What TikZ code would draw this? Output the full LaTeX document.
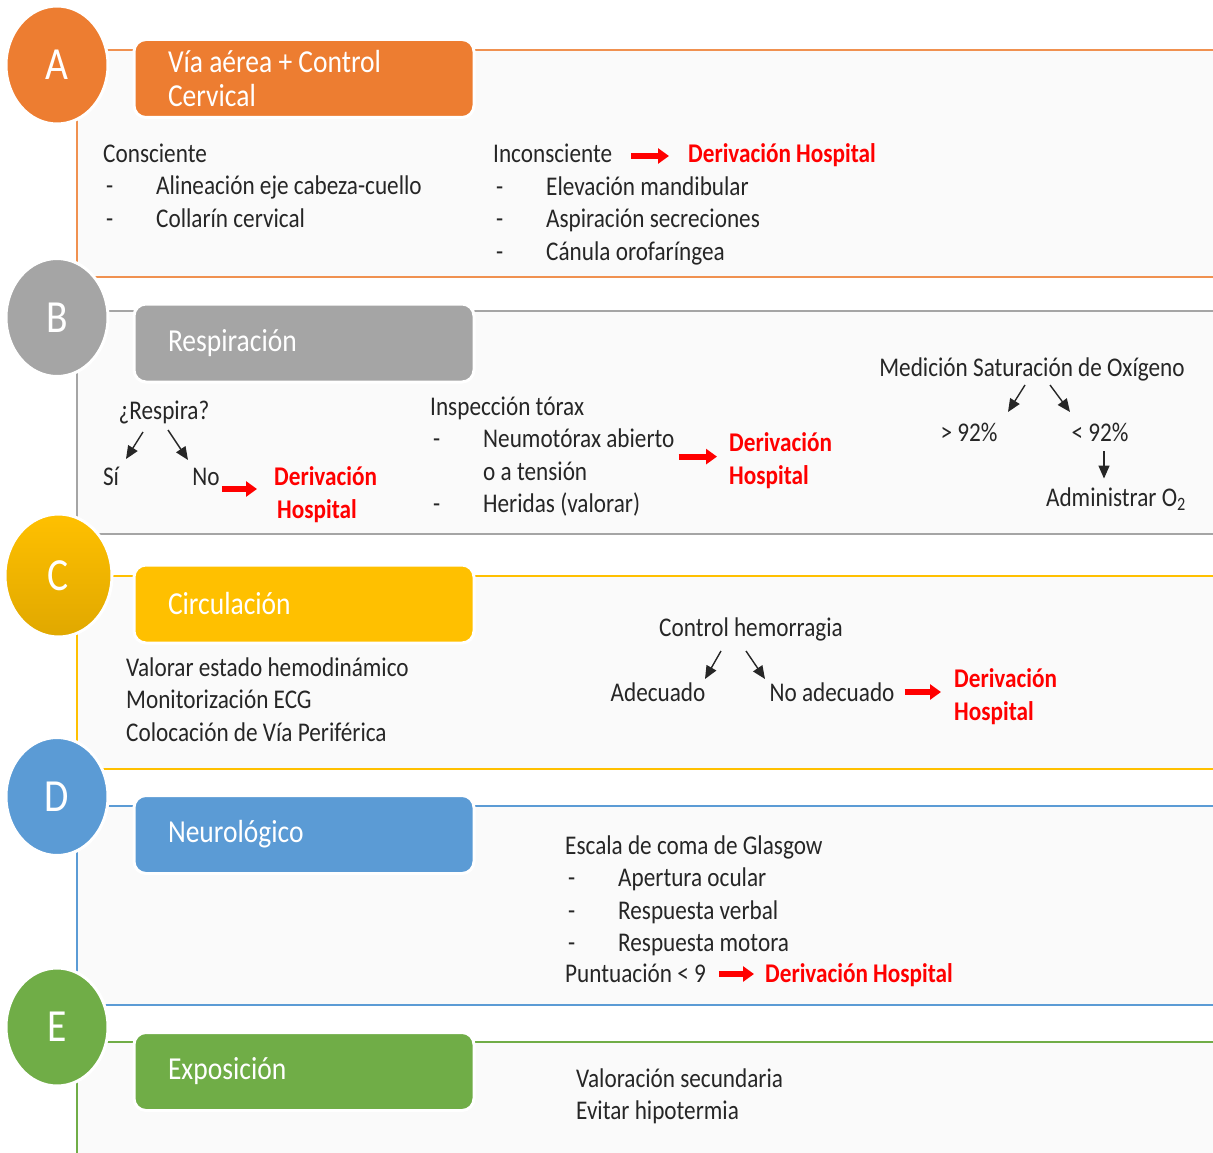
\documentclass[tikz,border=0pt]{standalone}
\usepackage{fontspec}
\setmainfont{Carlito}[FakeStretch=0.86]
\usetikzlibrary{arrows.meta,calc,shapes.geometric}

\definecolor{abcA}{HTML}{ED7D31}
\definecolor{abcB}{HTML}{A5A5A5}
\definecolor{abcC}{HTML}{FFC000}
\definecolor{abcCd}{HTML}{E0A800}
\definecolor{abcD}{HTML}{5B9BD5}
\definecolor{abcE}{HTML}{70AD47}
\definecolor{derivred}{HTML}{FF0000}
\definecolor{panelbg}{HTML}{FAFAFA}
\definecolor{ink}{HTML}{262626}

\newcommand{\dashitem}[1]{\makebox[53pt][l]{\hspace{3pt}-}#1}
\newcommand{\contitem}[1]{\hspace*{53pt}#1}

\begin{document}
\begin{tikzpicture}[
  x=1pt, y=-1pt,
  txt/.style={font=\fontsize{27}{32.5}\selectfont, text=ink, inner sep=0pt, align=left, execute at begin node=\strut},
  deriv/.style={txt, text=derivred, font=\fontsize{27}{32.5}\selectfont\bfseries},
  badge/.style={ellipse, minimum width=102pt, minimum height=118pt, inner sep=0pt, draw=white, line width=3pt, text=white, font=\fontsize{46}{50}\selectfont},
  hdr/.style={rounded corners=12pt, minimum height=78pt, text width=272pt, inner xsep=34pt, align=flush left, draw=white, line width=3pt, text=white, font=\fontsize{32}{34.5}\selectfont},
  rim/.style={line width=2.5pt},
  barr/.style={-{Triangle[length=13pt,width=11pt]}, line width=1.4pt, ink},
  redarr/.style={-{Triangle[length=11pt,width=15pt]}, line width=6pt, derivred},
]
  \useasboundingbox (0,0) rectangle (1213,1153);

  % ---------- panels ----------
  \fill[panelbg] (77,50) rectangle (1213,277);
  \fill[panelbg] (77,311) rectangle (1213,534);
  \fill[panelbg] (77,576) rectangle (1213,769);
  \fill[panelbg] (77,806) rectangle (1213,1005);
  \fill[panelbg] (77,1042) rectangle (1213,1153);
  \draw[rim, abcA!85] (1213,50) -| (77,277) -- (1213,277);
  \draw[rim, abcB] (1213,311) -| (77,534) -- (1213,534);
  \draw[rim, abcC] (1213,576) -| (77,769) -- (1213,769);
  \draw[rim, abcD] (1213,806) -| (77,1005) -- (1213,1005);
  \draw[rim, abcE] (1213,1042) -| (77,1160);

  % ---------- letters and headers ----------
  \node[badge, fill=abcA] (cA) at (57,65) {A};
  \node[badge, fill=abcB] (cB) at (57,317.5) {B};
  \node[badge, top color=abcC, bottom color=abcCd, minimum width=107pt, minimum height=123pt] (cC) at (58.5,575.5) {C};
  \node[badge, fill=abcD] (cD) at (57,796.5) {D};
  \node[badge, fill=abcE] (cE) at (57,1027) {E};

  \node[hdr, fill=abcA] (hA) at (304,78.5) {Vía aérea + Control\\Cervical};
  \node[hdr, fill=abcB] (hB) at (304,343) {Respiración};
  \node[hdr, fill=abcC] (hC) at (304,604) {Circulación};
  \node[hdr, fill=abcD] (hD) at (304,834.5) {Neurológico};
  \node[hdr, fill=abcE] (hE) at (304,1071.5) {Exposición};

  % ---------- A ----------
  \node[txt, anchor=north west] (consc) at (103,143.5)
    {Consciente\\\dashitem{Alineación eje cabeza-cuello}\\\dashitem{Collarín cervical}};
  \node[txt, anchor=west] (inc) at (493,156) {Inconsciente};
  \node[deriv, anchor=west] (derA) at (688,156) {Derivación Hospital};
  \node[txt, anchor=north west] (incl) at (493,176.5)
    {\dashitem{Elevación mandibular}\\\dashitem{Aspiración secreciones}\\\dashitem{Cánula orofaríngea}};
  \draw[redarr, shorten <=19pt, shorten >=19pt] (inc.east) -- (derA.west);

  % ---------- B ----------
  \node[txt] (resp) at (164,413) {¿Respira?};
  \node[txt] (si) at (111,479) {Sí};
  \node[txt] (no) at (206,479) {No};
  \node[deriv, anchor=north west] (derB) at (274,466.5) {Derivación\\\hspace*{3pt}Hospital};
  \draw[barr] ($(resp)+(-21,19)$) -- ($(si)+(15,-20)$);
  \draw[barr] ($(resp)+(4,17)$) -- ($(no)+(-18,-19)$);
  \coordinate (noArr) at ($(no.east)+(2,10)$);
  \draw[redarr, shorten >=17pt] (noArr) -- (noArr -| derB.west);

  \node[txt, anchor=north west] (insp) at (430,396.5)
    {Inspección tórax\\\dashitem{Neumotórax abierto}\\\contitem{o a tensión}\\\dashitem{Heridas (valorar)}};
  \node[deriv, anchor=north west] (derB2) at (729,432.5) {Derivación\\Hospital};
  \draw[redarr, shorten <=4pt, shorten >=12pt] ([yshift=3pt]insp.east) -- ([yshift=3pt]insp.east -| derB2.west);

  \node[txt] (sat) at (1032,370) {Medición Saturación de Oxígeno};
  \node[txt] (gt) at (969,435) {> 92\%};
  \node[txt] (lt) at (1100,435) {< 92\%};
  \node[txt] (otwo) at (1116,500) {Administrar O\textsubscript{2}};
  \draw[barr] ($(sat)+(-7,15)$) -- ($(gt)+(39,-23)$);
  \draw[barr] ($(sat)+(18,15)$) -- ($(lt)+(-30,-23)$);
  \coordinate (ltArr) at ($(lt.south)+(4,0)$);
  \draw[barr, shorten >=5pt] (ltArr) -- (ltArr |- otwo.north);

  % ---------- C ----------
  \node[txt, anchor=north west] (circl) at (126,657.5)
    {Valorar estado hemodinámico\\Monitorización ECG\\Colocación de Vía Periférica};
  \node[txt] (ctrl) at (751,630) {Control hemorragia};
  \node[txt] (adec) at (658,695) {Adecuado};
  \node[txt] (noad) at (832,695) {No adecuado};
  \node[deriv, anchor=north west] (derC) at (954,668.5) {Derivación\\Hospital};
  \draw[barr] ($(ctrl)+(-30,21)$) -- ($(adec)+(47,-16)$);
  \draw[barr] ($(ctrl)+(-5,21)$) -- ($(noad)+(-67,-16)$);
  \draw[redarr, shorten <=10pt, shorten >=13pt] ([yshift=3pt]noad.east) -- ([yshift=3pt]noad.east -| derC.west);

  % ---------- D ----------
  \node[txt, anchor=north west] (glas) at (565,835.5)
    {Escala de coma de Glasgow\\\dashitem{Apertura ocular}\\\dashitem{Respuesta verbal}\\\dashitem{Respuesta motora}};
  \node[txt, anchor=west] (punt) at (565,976) {Puntuación < 9};
  \node[deriv, anchor=west] (derD) at (765,976) {Derivación Hospital};
  \draw[redarr, shorten <=13pt, shorten >=11pt] ([yshift=2pt]punt.east) -- ([yshift=2pt]derD.west);

  % ---------- E ----------
  \node[txt, anchor=north west] (expo) at (576,1068.5)
    {Valoración secundaria\\Evitar hipotermia};
\end{tikzpicture}
\end{document}
